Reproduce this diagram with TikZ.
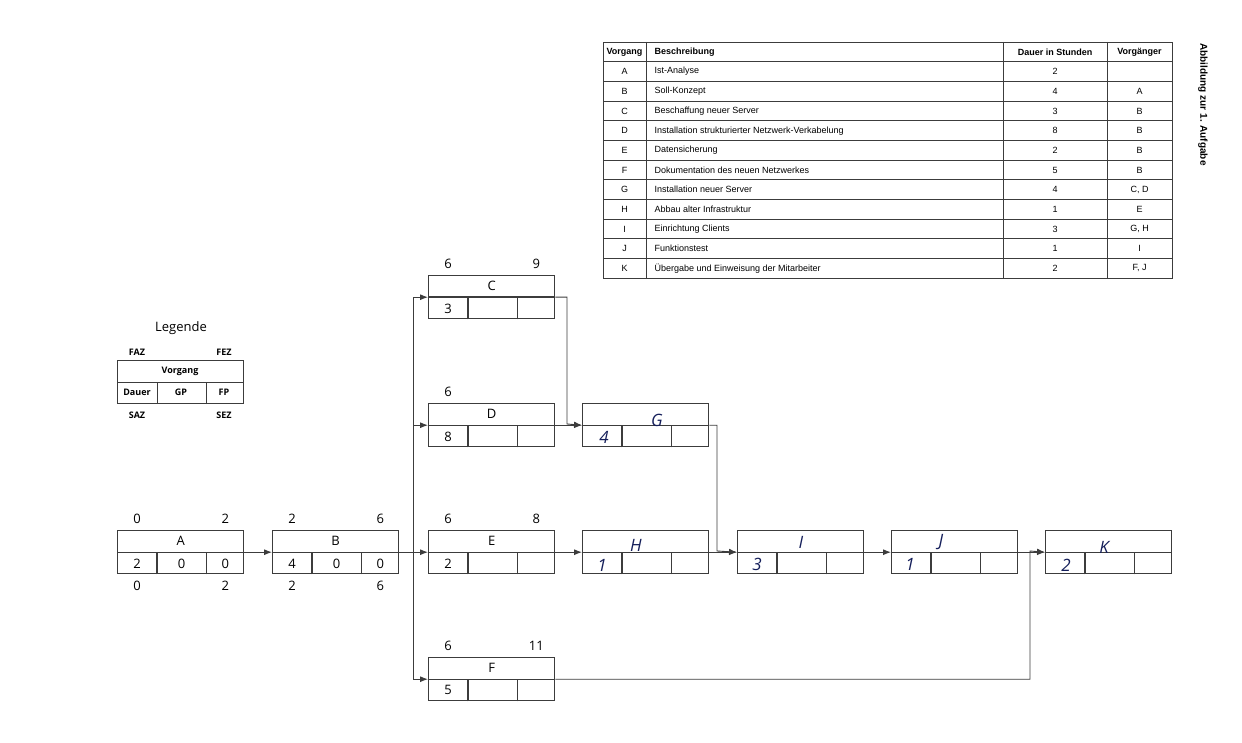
\documentclass[tikz,border=0pt]{standalone}
\usepackage{fontspec}
\setmainfont{Open Sans}
\newfontfamily\tabfont{Liberation Sans}
\usetikzlibrary{arrows.meta,positioning,calc}
\definecolor{ink}{RGB}{20,30,90}
\definecolor{rule}{RGB}{60,60,60}
\tikzstyle{box} = [rectangle, draw=rule, line width=1.4pt, minimum width=126pt,
    minimum height=43pt, inner sep=0pt]
\tikzstyle{num} = [font=\fontsize{13}{13}\selectfont, inner sep=0pt]
\tikzstyle{hand} = [font=\fontsize{17}{17}\selectfont\itshape, text=ink, inner sep=0pt]
\tikzstyle{flow} = [draw=rule, line width=0.9pt, -{Latex[length=8pt,width=6pt]}]
\tikzstyle{small} = [font=\fontsize{9}{9}\selectfont\bfseries, inner sep=0pt]
\newcommand{\netzbox}[4]{%
  \node[box, anchor=north west] (#1) at (#2,#3) {};
  \draw[rule, line width=1.4pt] (#1.west) -- (#1.east)
    ($(#1.south west)+(40,0)$) -- ($(#1.west)+(40,0)$)
    ($(#1.south east)+(-38,0)$) -- ($(#1.east)+(-38,0)$);
  \node[num] at ($(#1.north)+(0,11)$) {#4};
}
\begin{document}
\begin{tikzpicture}[x=1pt, y=-1pt]
  \useasboundingbox[fill=white] (0,0) rectangle (1242,743);

  % table
  \begin{scope}[font=\tabfont\fontsize{9}{9}\selectfont]
    \draw[rule, line width=0.8pt] (603,42) rectangle (1172,278);
    \foreach \xx in {646,1003,1107} \draw[rule, line width=0.6pt] (\xx,42) -- (\xx,278);
    \foreach \r in {1,...,11} \draw[rule, line width=0.6pt] (603,{42+\r*19.67}) -- (1172,{42+\r*19.67});
    \node[font=\tabfont\fontsize{9}{9}\selectfont\bfseries] at (624.5,52) {Vorgang};
    \node[font=\tabfont\fontsize{9}{9}\selectfont\bfseries, anchor=west] at (651,52) {Beschreibung};
    \node[font=\tabfont\fontsize{9}{9}\selectfont\bfseries] at (1055,52) {Dauer in Stunden};
    \node[font=\tabfont\fontsize{9}{9}\selectfont\bfseries] at (1139.5,52) {Vorgänger};
    \foreach \v/\b/\d/\p [count=\i] in {A/Ist-Analyse/2/,B/Soll-Konzept/4/A,
        C/Beschaffung neuer Server/3/B,
        D/Installation strukturierter Netzwerk-Verkabelung/8/B,
        E/Datensicherung/2/B,F/Dokumentation des neuen Netzwerkes/5/B,
        G/Installation neuer Server/4/{C, D},H/Abbau alter Infrastruktur/1/E,
        I/Einrichtung Clients/3/{G, H},J/Funktionstest/1/I,
        K/Übergabe und Einweisung der Mitarbeiter/2/{F, J}} {
      \node at (624.5,{52+\i*19.67}) {\v};
      \node[anchor=west] at (651,{52+\i*19.67}) {\b};
      \node at (1055,{52+\i*19.67}) {\d};
      \node at (1139.5,{52+\i*19.67}) {\p};
    }
  \end{scope}
  \node[font=\tabfont\fontsize{10}{10}\selectfont\bfseries, rotate=-90, anchor=west] at (1203,40) {Abbildung zur 1. Aufgabe};

  % legend
  \node[font=\fontsize{13}{13}\selectfont] at (181,328) {Legende};
  \node[box, anchor=north west, line width=1pt] (legend) at (117,360) {};
  \draw[rule, line width=1pt] (legend.west) -- (legend.east)
    ($(legend.south west)+(40,0)$) -- ($(legend.west)+(40,0)$)
    ($(legend.south east)+(-38,0)$) -- ($(legend.east)+(-38,0)$);
  \node[small] at (180,371) {Vorgang};
  \node[small] at (137,392) {Dauer};
  \node[small] at (181,392) {GP};
  \node[small] at (224,392) {FP};
  \node[small] at (137,352) {FAZ};
  \node[small] at (224,352) {FEZ};
  \node[small] at (137,415) {SAZ};
  \node[small] at (224,415) {SEZ};

  % boxes
  \netzbox{A}{117}{530}{A}
  \netzbox{B}{272}{530}{B}
  \netzbox{C}{428}{275}{C}
  \netzbox{D}{428}{403}{D}
  \netzbox{E}{428}{530}{E}
  \netzbox{F}{428}{657}{F}
  \netzbox{G}{582}{403}{}
  \netzbox{H}{582}{530}{}
  \netzbox{I}{737}{530}{}
  \netzbox{J}{891}{530}{}
  \netzbox{K}{1045}{530}{}

  % printed values
  \foreach \n/\d in {A/2,B/4,C/3,D/8,E/2,F/5}
    \node[num] at ($(\n.south west)+(20,-11)$) {\d};
  \foreach \n/\l/\r in {A/0/2,B/2/6,C/6/9,D/6/,E/6/8,F/6/11} {
    \node[num] at ($(\n.north west)+(20,-11)$) {\l};
    \node[num] at ($(\n.north east)+(-19,-11)$) {\r};
  }
  \foreach \n/\g/\f/\l/\r in {A/0/0/0/2,B/0/0/2/6} {
    \node[num] at ($(\n.south)+(1,-11)$) {\g};
    \node[num] at ($(\n.south east)+(-19,-11)$) {\f};
    \node[num] at ($(\n.south west)+(20,11)$) {\l};
    \node[num] at ($(\n.south east)+(-19,11)$) {\r};
  }

  % handwritten
  \node[hand] at (657,420) {G};
  \node[hand] at (604,437) {4};
  \node[hand] at (636,545) {H};
  \node[hand] at (602,565) {1};
  \node[hand] at (801,542) {I};
  \node[hand] at (757,564) {3};
  \node[hand] at (941,542) {J};
  \node[hand] at (910,564) {1};
  \node[hand] at (1104,547) {K};
  \node[hand] at (1066,565) {2};

  % connectors
  \coordinate (split) at (413,551);
  \coordinate (joinG) at (567,424);
  \coordinate (joinI) at (717,551);
  \coordinate (joinK) at (1030,551);
  \path[flow] (A.east) -- (B.west);
  \path[flow] (B.east) -- (E.west);
  \path[flow] (split) |- (C.west);
  \path[flow] (split) |- (D.west);
  \path[flow] (split) |- (F.west);
  \path[flow] (C.east) -| (joinG) -- (G.west);
  \path[flow] (D.east) -- (G.west);
  \path[flow] (E.east) -- (H.west);
  \path[flow] (G.east) -| (joinI) -- (I.west);
  \path[flow] (H.east) -- (I.west);
  \path[flow] (I.east) -- (J.west);
  \path[flow] (J.east) -- (K.west);
  \path[flow] (F.east) -| (joinK) -- (K.west);
\end{tikzpicture}
\end{document}
